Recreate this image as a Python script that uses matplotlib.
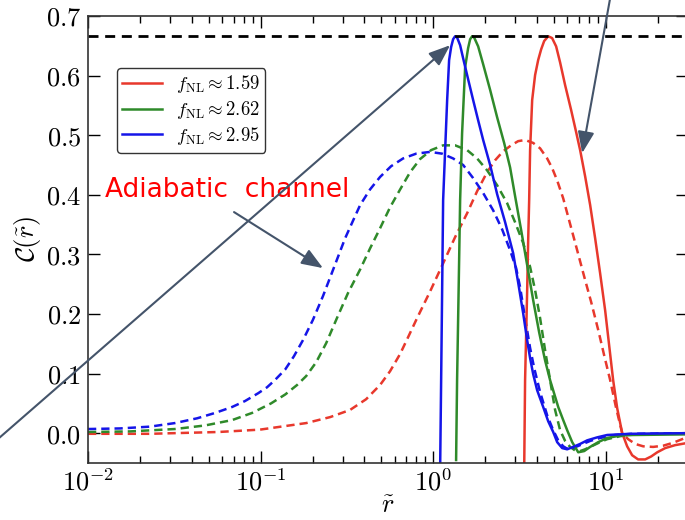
import numpy as np
import matplotlib
matplotlib.use('Agg')
import matplotlib.pyplot as plt

plt.rcParams['mathtext.fontset'] = 'cm'

# 数据：点 (r, C)
# 实线 (非高斯)
r_red_s = [3.371, 3.412, 3.508, 3.556, 3.603, 3.648, 3.750, 3.900, 4.062, 4.227, 4.401, 4.645,
           4.893, 5.164, 5.445, 5.821, 6.310, 6.745, 7.112, 7.603, 8.128, 8.690, 9.290, 9.931,
           10.47, 11.05, 11.66, 12.47, 13.32, 14.24, 15.42, 16.94, 18.36, 19.91, 22.13, 25.29, 28.9]
C_red_s = [-0.062, 0.089, 0.240, 0.324, 0.391, 0.475, 0.559, 0.601, 0.626, 0.644, 0.658, 0.666,
           0.663, 0.649, 0.622, 0.584, 0.542, 0.505, 0.475, 0.431, 0.383, 0.327, 0.268, 0.206,
           0.148, 0.089, 0.042, 0.0, -0.022, -0.037, -0.044, -0.044, -0.039, -0.032, -0.025, -0.020, -0.017]

r_green_s = [1.359, 1.377, 1.396, 1.415, 1.434, 1.472, 1.533, 1.595, 1.639, 1.683, 1.729, 1.824,
             1.950, 2.140, 2.350, 2.580, 2.793, 2.985, 3.236, 3.508, 3.802, 4.118, 4.457, 4.764,
             5.309, 5.675, 5.984, 6.397, 6.934, 7.505, 8.128, 9.057, 10.20, 12.14, 14.42, 28.9]
C_green_s = [-0.045, 0.089, 0.190, 0.290, 0.391, 0.503, 0.614, 0.646, 0.661, 0.666, 0.664, 0.649,
             0.619, 0.576, 0.530, 0.487, 0.446, 0.398, 0.341, 0.282, 0.223, 0.169, 0.122, 0.089,
             0.044, 0.022, 0.005, -0.015, -0.032, -0.030, -0.023, -0.015, -0.008, -0.004, -0.003, -0.002]

r_blue_s = [1.098, 1.113, 1.128, 1.143, 1.174, 1.206, 1.238, 1.272, 1.306, 1.341, 1.377, 1.434,
            1.493, 1.595, 1.706, 1.824, 1.950, 2.140, 2.350, 2.614, 2.910, 3.110, 3.327, 3.508,
            3.648, 3.802, 4.009, 4.345, 4.645, 4.966, 5.236, 5.598, 5.984, 6.486, 7.112, 7.816,
            8.925, 10.20, 13.87, 28.9]
C_blue_s = [-0.062, 0.089, 0.240, 0.391, 0.475, 0.559, 0.626, 0.648, 0.661, 0.666, 0.664, 0.651,
            0.629, 0.594, 0.559, 0.525, 0.492, 0.450, 0.401, 0.354, 0.302, 0.253, 0.201, 0.156,
            0.126, 0.099, 0.072, 0.044, 0.020, 0.002, -0.015, -0.025, -0.027, -0.023, -0.018, -0.012,
            -0.007, -0.003, -0.001, 0.0]

# 虚线 (绝热通道)
r_red_d = [0.0100, 0.02286, 0.0568, 0.0993, 0.184, 0.253, 0.330, 0.409, 0.493, 0.563,
           0.644, 0.716, 0.807, 0.961, 1.143, 1.341, 1.574, 1.799, 2.056, 2.288,
           2.545, 2.833, 3.110, 3.412, 3.802, 4.169, 4.581, 4.893, 5.236, 5.675,
           6.223, 6.836, 7.505, 8.241, 9.057, 9.795, 10.62, 11.50, 12.47, 13.50,
           14.83, 16.49, 18.84, 21.53, 24.62, 28.9]
C_red_d = [-0.001, -0.001, 0.002, 0.006, 0.017, 0.027, 0.039, 0.057, 0.081, 0.104,
           0.133, 0.161, 0.193, 0.238, 0.285, 0.329, 0.369, 0.406, 0.438, 0.458,
           0.473, 0.483, 0.490, 0.492, 0.487, 0.478, 0.461, 0.445, 0.424, 0.394,
           0.351, 0.307, 0.263, 0.220, 0.173, 0.131, 0.089, 0.042, 0.0, -0.010,
           -0.018, -0.022, -0.023, -0.021, -0.016, -0.008]

r_green_d = [0.0100, 0.0175, 0.0319, 0.0477, 0.0684, 0.0893, 0.115, 0.139, 0.163, 0.184,
             0.210, 0.240, 0.277, 0.321, 0.378, 0.431, 0.493, 0.563, 0.644, 0.736,
             0.841, 0.974, 1.143, 1.341, 1.574, 1.799, 2.056, 2.350, 2.685, 2.985,
             3.327, 3.648, 3.900, 4.169, 4.457, 4.764, 5.093, 5.445, 5.821, 6.223,
             6.653, 7.112, 7.603, 8.128, 9.290, 10.20, 12.14, 14.42, 28.9]
C_green_d = [0.002, 0.003, 0.007, 0.013, 0.022, 0.034, 0.050, 0.065, 0.081, 0.096,
             0.119, 0.151, 0.193, 0.235, 0.275, 0.310, 0.344, 0.379, 0.409, 0.438,
             0.460, 0.475, 0.483, 0.483, 0.475, 0.461, 0.441, 0.416, 0.386, 0.354,
             0.319, 0.279, 0.240, 0.193, 0.139, 0.089, 0.039, 0.005, -0.013, -0.023,
             -0.029, -0.030, -0.027, -0.023, -0.015, -0.010, -0.005, -0.002, 0.0]

r_blue_d = [0.0100, 0.01535, 0.02286, 0.0319, 0.0429, 0.0545, 0.0684, 0.0813, 0.0968, 0.109,
            0.121, 0.139, 0.156, 0.176, 0.201, 0.230, 0.263, 0.309, 0.344, 0.378,
            0.431, 0.493, 0.571, 0.670, 0.797, 0.961, 1.128, 1.306, 1.493, 1.706,
            1.950, 2.228, 2.512, 2.793, 3.027, 3.192, 3.412, 3.648, 3.855, 4.169,
            4.581, 4.966, 5.309, 5.675, 5.984, 6.486, 7.112, 8.128, 9.290, 11.35,
            14.42, 28.9]
C_blue_d = [0.007, 0.008, 0.011, 0.017, 0.025, 0.034, 0.044, 0.054, 0.067, 0.077,
            0.089, 0.107, 0.129, 0.156, 0.190, 0.230, 0.274, 0.327, 0.357, 0.383,
            0.409, 0.430, 0.448, 0.461, 0.469, 0.472, 0.469, 0.461, 0.450, 0.428,
            0.403, 0.374, 0.342, 0.307, 0.277, 0.245, 0.193, 0.143, 0.109, 0.069,
            0.030, 0.005, -0.012, -0.022, -0.026, -0.025, -0.020, -0.013, -0.008, -0.003,
            -0.001, 0.0]

C_MAX = 2 / 3
fnl_labels = [r'$f_{\mathrm{NL}} \approx 1.59$', r'$f_{\mathrm{NL}} \approx 2.62$', r'$f_{\mathrm{NL}} \approx 2.95$']
xtick_vals = [1e-2, 1e-1, 1e0, 1e1]
xtick_labels = [r'$10^{-2}$', r'$10^{-1}$', r'$10^{0}$', r'$10^{1}$']
ytick_vals = [0.0, 0.1, 0.2, 0.3, 0.4, 0.5, 0.6, 0.7]

red, green, blue = '#e8382c', '#2f8a2a', '#1515e8'
arrow_c = '#44546a'

fig = plt.figure(figsize=(6.85, 5.2), dpi=100)
ax = fig.add_axes([88 / 685, 57 / 520, 600 / 685, 447 / 520])

# 虚线
dash = (3.3, 2.0)
ax.plot(r_red_d, C_red_d, color=red, lw=1.8, ls='--', dashes=dash)
ax.plot(r_green_d, C_green_d, color=green, lw=1.8, ls='--', dashes=dash)
ax.plot(r_blue_d, C_blue_d, color=blue, lw=1.8, ls='--', dashes=dash)

# 实线
ax.plot(r_red_s, C_red_s, color=red, lw=1.8, label=fnl_labels[0])
ax.plot(r_green_s, C_green_s, color=green, lw=1.8, label=fnl_labels[1])
ax.plot(r_blue_s, C_blue_s, color=blue, lw=1.8, label=fnl_labels[2])

ax.axhline(C_MAX, color='k', lw=2, ls='--', dashes=(3.6, 2.4))

ax.set_xscale('log')
ax.set_xlim(1e-2, 30)
ax.set_ylim(-0.05, 0.7)
ax.set_xticks(xtick_vals)
ax.set_xticklabels(xtick_labels)
ax.set_yticks(ytick_vals)
ax.set_yticklabels(['$%.1f$' % v for v in ytick_vals])
ax.tick_params(which='both', direction='in', top=True, right=True, labelsize=19)
ax.tick_params(which='major', length=8.5, width=1.0, pad=5)
ax.tick_params(which='minor', length=5, width=1.0)
ax.tick_params(axis='y', which='minor', left=False, right=False)
for s in ax.spines.values():
    s.set_linewidth(1.2)
    s.set_color('#333333')

ax.set_xlabel(r'$\tilde{r}$', fontsize=19)
ax.xaxis.set_label_coords(0.5, -0.066)
ax.set_ylabel(r'$\mathcal{C}(\tilde{r})$', fontsize=19)
ax.yaxis.set_label_coords(-0.075, 0.5)

leg = ax.legend(loc='upper left', bbox_to_anchor=(0.048, 0.884), borderaxespad=0,
                fontsize=13.5, frameon=True, fancybox=True, framealpha=1,
                edgecolor='#333333', handlelength=2.1, handletextpad=0.75,
                labelspacing=0.2, borderpad=0.3)
leg.get_frame().set_linewidth(1.0)

# 标注
ax.text(0.01256, 0.408, 'Adiabatic  channel', color='red', fontsize=19,
        ha='left', va='center', family='DejaVu Sans')

ap = dict(arrowstyle='-|>,head_length=0.65,head_width=0.25', color=arrow_c, lw=1.5,
          shrinkA=0, shrinkB=0, mutation_scale=20)
ax.annotate('', xy=(1.255, 0.651), xycoords='data', xytext=(-0.015, 0.142),
            textcoords='figure fraction', arrowprops=ap, annotation_clip=False)
ax.annotate('', xy=(0.230, 0.277), xycoords='data', xytext=(0.0702, 0.371),
            textcoords='data', arrowprops=ap, annotation_clip=False)
ax.annotate('', xy=(7.31, 0.470), xycoords='data', xytext=(0.893, 1.02),
            textcoords='figure fraction', arrowprops=ap, annotation_clip=False)

plt.savefig('out.png', dpi=100)
